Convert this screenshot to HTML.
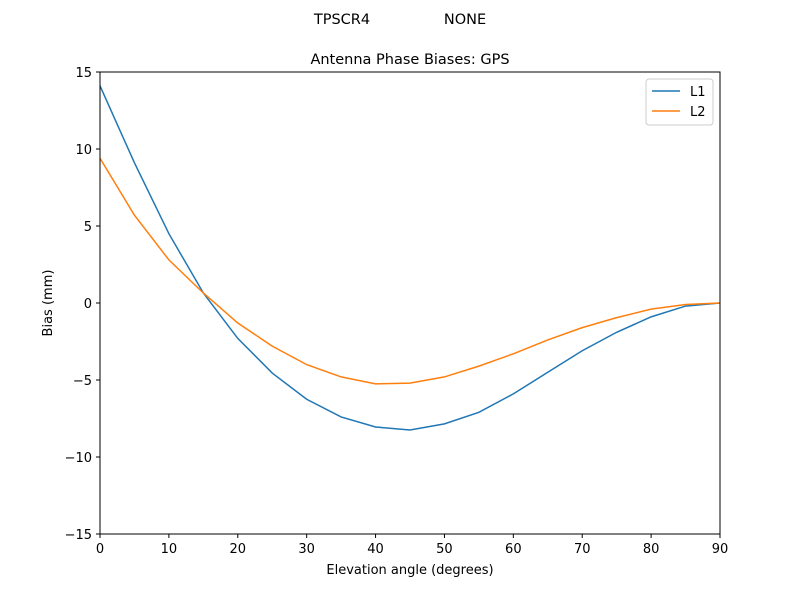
<!DOCTYPE html>
<html><head><meta charset="utf-8"><style>
body{margin:0;background:#fff;font-family:"DejaVu Sans","Liberation Sans",sans-serif;}
svg text{font-family:"DejaVu Sans","Liberation Sans",sans-serif;fill:#000;}
</style></head><body>
<svg id="chart" width="800" height="600" xmlns="http://www.w3.org/2000/svg">
<rect width="800" height="600" fill="#fff"/>
<text x="400" y="24" font-size="14.5" text-anchor="middle">TPSCR4&#160;&#160;&#160;&#160;&#160;&#160;&#160;&#160;&#160;&#160;&#160;&#160;&#160;&#160;&#160;&#160;NONE</text>
<text x="410" y="64" font-size="14.5" text-anchor="middle">Antenna Phase Biases: GPS</text>
<g id="ticks"></g>
<g id="lines"></g>
<rect x="100" y="72" width="620" height="462" fill="none" stroke="#000" stroke-width="1"/>
<text x="410" y="574" font-size="13" text-anchor="middle">Elevation angle (degrees)</text>
<text transform="translate(52,303) rotate(-90)" font-size="13" text-anchor="middle">Bias (mm)</text>
<g>
<rect x="646" y="79" width="67" height="46" rx="3" fill="#fff" stroke="#ccc"/>
<g><line x1="652" y1="91" x2="680" y2="91" stroke="#1f77b4" stroke-width="1.5"/><text x="690" y="96" font-size="13">L1</text></g>
<g><line x1="652" y1="111" x2="680" y2="111" stroke="#ff7f0e" stroke-width="1.5"/><text x="690" y="116" font-size="13">L2</text></g>
</g>
</svg>
<script>
const elev = [0,5,10,15,20,25,30,35,40,45,50,55,60,65,70,75,80,85,90];
const l1 = [14.1,9.1,4.5,0.65,-2.3,-4.55,-6.25,-7.4,-8.05,-8.25,-7.85,-7.1,-5.9,-4.5,-3.1,-1.9,-0.9,-0.2,0];
const l2 = [9.4,5.7,2.8,0.65,-1.3,-2.8,-4.0,-4.8,-5.25,-5.2,-4.8,-4.1,-3.3,-2.4,-1.6,-0.95,-0.4,-0.1,0];
const xTicks = [0,10,20,30,40,50,60,70,80,90];
const yTicks = [-15,-10,-5,0,5,10,15];
const NS="http://www.w3.org/2000/svg";
const X=v=>100+(v-0)/90*620;
const Y=v=>534-(v+15)/30*462;
const tg=document.getElementById('ticks');
xTicks.forEach(t=>{
  const l=document.createElementNS(NS,'line');
  l.setAttribute('x1',X(t));l.setAttribute('x2',X(t));l.setAttribute('y1',534);l.setAttribute('y2',538);l.setAttribute('stroke','#000');
  
  
  tg.appendChild(l);
  const tx=document.createElementNS(NS,'text');
  tx.setAttribute('x',X(t));tx.setAttribute('y',553);tx.setAttribute('font-size','13');tx.setAttribute('text-anchor','middle');
  tx.textContent=t;
  
  
  tg.appendChild(tx);
});
yTicks.forEach(t=>{
  const l=document.createElementNS(NS,'line');
  l.setAttribute('x1',96);l.setAttribute('x2',100);l.setAttribute('y1',Y(t));l.setAttribute('y2',Y(t));l.setAttribute('stroke','#000');
  
  
  tg.appendChild(l);
  const tx=document.createElementNS(NS,'text');
  tx.setAttribute('x',92);tx.setAttribute('y',Y(t)+5);tx.setAttribute('font-size','13');tx.setAttribute('text-anchor','end');
  tx.textContent=t<0?'\u2212'+(-t):t;
  
  
  tg.appendChild(tx);
});
const lg=document.getElementById('lines');
function draw(vals,color,name){
  const p=document.createElementNS(NS,'polyline');
  p.setAttribute('points',elev.map((e,i)=>X(e)+','+Y(vals[i])).join(' '));
  p.setAttribute('fill','none');p.setAttribute('stroke',color);p.setAttribute('stroke-width','1.5');
  
  
  lg.appendChild(p);
}
draw(l1,'#1f77b4','l1-line');
draw(l2,'#ff7f0e','l2-line');
</script>
</body></html>
